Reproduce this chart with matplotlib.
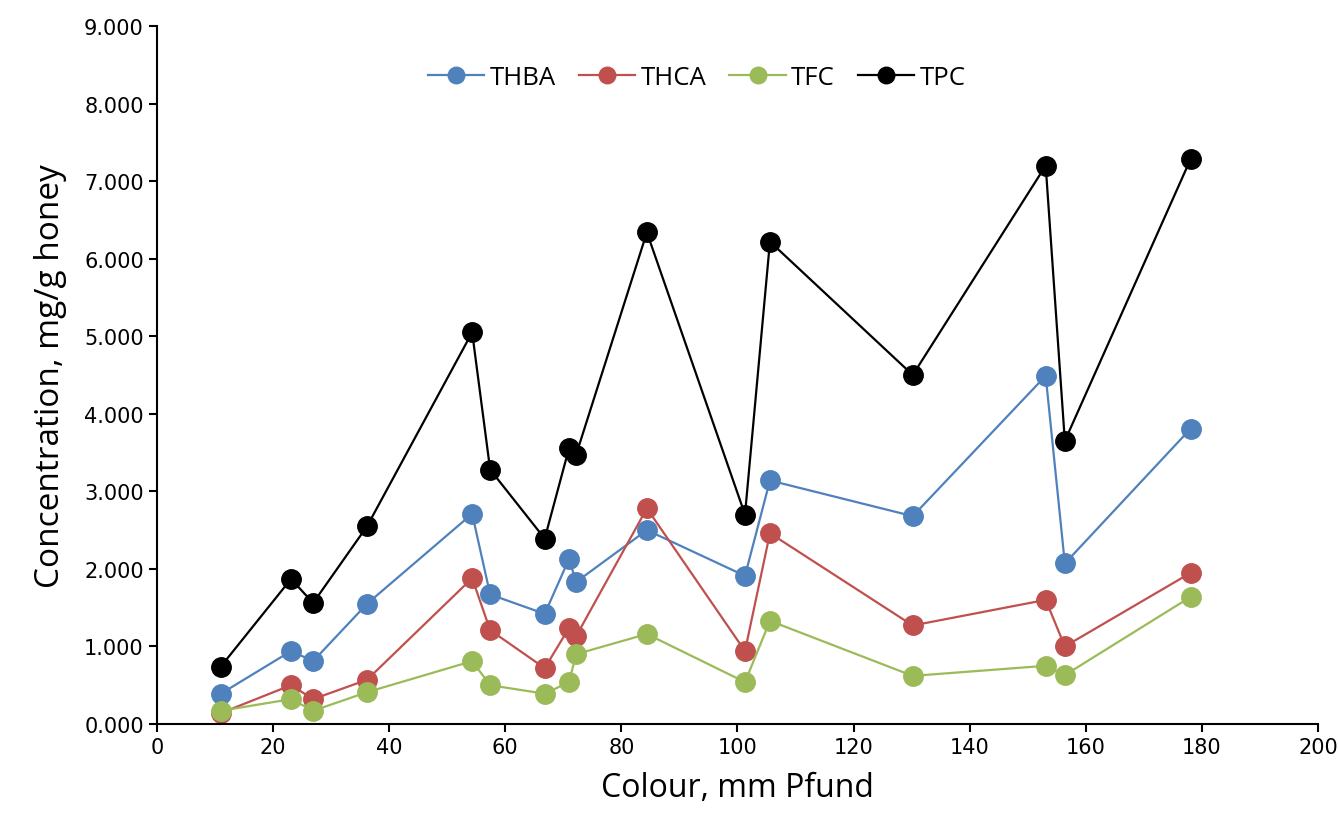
import numpy as np
import matplotlib.pyplot as plt

# Colour (mm Pfund) for each honey sample
colour = [11.0, 23.1, 26.9, 36.2, 54.3, 57.4, 66.8, 71.0, 72.2, 84.4,
          101.3, 105.6, 130.2, 153.1, 156.4, 178.1]

thba = [0.39, 0.94, 0.81, 1.55, 2.71, 1.67, 1.42, 2.13, 1.83, 2.50,
        1.91, 3.14, 2.68, 4.49, 2.07, 3.81]
thca = [0.14, 0.50, 0.32, 0.57, 1.88, 1.21, 0.72, 1.24, 1.13, 2.78,
        0.94, 2.46, 1.27, 1.60, 1.00, 1.95]
tfc = [0.17, 0.32, 0.17, 0.41, 0.81, 0.50, 0.39, 0.54, 0.90, 1.16,
       0.54, 1.33, 0.62, 0.75, 0.63, 1.64]
tpc = [0.74, 1.87, 1.56, 2.55, 5.05, 3.28, 2.39, 3.56, 3.47, 6.34,
       2.70, 6.22, 4.50, 7.20, 3.65, 7.29]

fig = plt.figure(figsize=(13.38, 8.2), dpi=100)
ax = fig.add_axes([0.1173, 0.1159, 0.8677, 0.8511])

series = [("THBA", thba, "#4F81BD"),
          ("THCA", thca, "#C0504D"),
          ("TFC", tfc, "#9BBB59"),
          ("TPC", tpc, "black")]
for name, vals, c in series:
    ax.plot(colour, vals, color=c, lw=1.6, marker="o", ms=14, label=name)

ax.set_xlim(0, 200)
ax.set_ylim(0, 9)
ax.set_xticks(np.arange(0, 201, 20))
ax.set_yticks(np.arange(0, 9.1, 1))
ax.set_yticklabels([f"{v:.3f}" for v in np.arange(0, 9.1, 1)])
for s in ["top", "right"]:
    ax.spines[s].set_visible(False)
for s in ["left", "bottom"]:
    ax.spines[s].set_linewidth(1.5)
ax.tick_params(direction="out", length=6, width=1.5, labelsize=15)
for lbl in ax.get_xticklabels() + ax.get_yticklabels():
    lbl.set_family("DejaVu Sans")

ax.set_xlabel("Colour, mm Pfund", fontsize=23, family="Open Sans", labelpad=10)
ax.set_ylabel("Concentration, mg/g honey", fontsize=24, family="Open Sans", labelpad=12)

ax.legend(loc="upper center", bbox_to_anchor=(0.465, 0.978), ncol=4, frameon=False,
          prop={"family": "Open Sans", "size": 18.5}, markerscale=0.85,
          handlelength=2.2, handletextpad=0.2, columnspacing=0.9)

fig.savefig("out.png", dpi=100)
